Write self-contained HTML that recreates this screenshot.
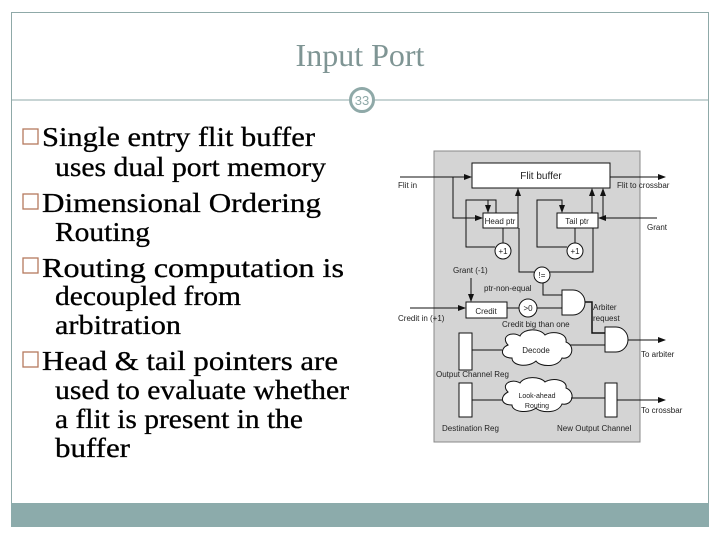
<!DOCTYPE html>
<html><head><style>body{margin:0;background:#fff}svg{display:block}</style></head><body>
<svg width="720" height="540" viewBox="0 0 720 540" xmlns="http://www.w3.org/2000/svg" font-family="Liberation Serif, serif">
<rect x="11.5" y="12.5" width="697" height="514" fill="#fff" stroke="#8fa9a8"/>
<rect x="11" y="503" width="698" height="24" fill="#8cabab"/>
<text x="360" y="66" font-size="32" fill="#7f9594" text-anchor="middle">Input Port</text>
<line x1="11" y1="100" x2="349" y2="100" stroke="#8fa9a8"/>
<line x1="375" y1="100" x2="709" y2="100" stroke="#8fa9a8"/>
<circle cx="362" cy="100" r="11.5" fill="#fff" stroke="#8fa9a8" stroke-width="3"/>
<text x="362" y="105" font-size="13" fill="#8fa9a8" text-anchor="middle" font-family="Liberation Sans, sans-serif">33</text>
<g font-size="27" fill="#000" stroke="#000" stroke-width="0.3">
<g fill="none" stroke="#b57a5e" stroke-width="1.3">
<rect x="23" y="129" width="15" height="15"/><rect x="23" y="194" width="15" height="15"/>
<rect x="23" y="258" width="15" height="15"/><rect x="23" y="352" width="15" height="15"/>
</g>
<text x="42" y="146" textLength="273" lengthAdjust="spacingAndGlyphs">Single entry flit buffer</text>
<text x="55" y="176" textLength="271" lengthAdjust="spacingAndGlyphs">uses dual port memory</text>
<text x="42" y="212" textLength="279" lengthAdjust="spacingAndGlyphs">Dimensional Ordering</text>
<text x="55" y="241" textLength="95" lengthAdjust="spacingAndGlyphs">Routing</text>
<text x="42" y="277" textLength="302" lengthAdjust="spacingAndGlyphs">Routing computation is</text>
<text x="55" y="305" textLength="186" lengthAdjust="spacingAndGlyphs">decoupled from</text>
<text x="55" y="334" textLength="126" lengthAdjust="spacingAndGlyphs">arbitration</text>
<text x="42" y="370" textLength="296" lengthAdjust="spacingAndGlyphs">Head &amp; tail pointers are</text>
<text x="55" y="399" textLength="294" lengthAdjust="spacingAndGlyphs">used to evaluate whether</text>
<text x="55" y="428" textLength="248" lengthAdjust="spacingAndGlyphs">a flit is present in the</text>
<text x="55" y="457" textLength="75" lengthAdjust="spacingAndGlyphs">buffer</text>
</g>
<defs><marker id="a" markerWidth="8" markerHeight="8" refX="7" refY="4" orient="auto" markerUnits="userSpaceOnUse"><path d="M0,1 L8,4 L0,7z" fill="#111"/></marker></defs>
<rect x="434" y="151" width="206" height="291" fill="#d4d4d4" stroke="#888"/>
<g stroke="#111" stroke-width="1" fill="none">
<rect x="472" y="163" width="138" height="25" fill="#fff"/>
<line x1="400" y1="177" x2="471" y2="177" marker-end="url(#a)"/>
<line x1="610" y1="177" x2="665" y2="177" marker-end="url(#a)"/>
<polyline points="453,177 453,218 482,218" marker-end="url(#a)"/>
<rect x="483" y="213" width="35" height="15" fill="#fff"/>
<rect x="557" y="213" width="41" height="15" fill="#fff"/>
<polyline points="496,213 496,200 466,200 466,247 495,247"/>
<polyline points="466,200 488,200 488,212" marker-end="url(#a)"/>
<line x1="503" y1="228" x2="503" y2="243"/>
<circle cx="503" cy="251" r="8" fill="#fff"/>
<line x1="518" y1="213" x2="518" y2="189" marker-end="url(#a)"/>
<polyline points="567,247 537,247 537,200 562,200 562,212" marker-end="url(#a)"/>
<line x1="575" y1="228" x2="575" y2="243"/>
<circle cx="575" cy="251" r="8" fill="#fff"/>
<line x1="592" y1="213" x2="592" y2="189" marker-end="url(#a)"/>
<line x1="657" y1="218" x2="599" y2="218" marker-end="url(#a)"/>
<line x1="603" y1="218" x2="603" y2="189" marker-end="url(#a)"/>
<polyline points="519,228 519,272 534,272"/>
<polyline points="550,272 593,272 593,228"/>
<circle cx="542" cy="275" r="8" fill="#fff"/>
<polyline points="543,283 543,295 562,295"/>
<line x1="471" y1="278" x2="471" y2="301" marker-end="url(#a)"/>
<line x1="410" y1="308" x2="465" y2="308" marker-end="url(#a)"/>
<rect x="466" y="302" width="41" height="16" fill="#fff"/>
<line x1="507" y1="308" x2="519" y2="308"/>
<circle cx="528" cy="308" r="9" fill="#fff"/>
<line x1="537" y1="308" x2="562" y2="308"/>
<path d="M562,290 H573 A12,12.5 0 0 1 573,315 H562 Z" fill="#fff"/>
<polyline points="585,302 592,302 592,333 605,333" stroke-width="1.5"/>
<path d="M605,327 H616 A12,12.5 0 0 1 616,352 H605 Z" fill="#fff"/>
<line x1="628" y1="340" x2="665" y2="340" marker-end="url(#a)"/>
<rect x="459" y="333" width="13" height="37" fill="#fff"/>
<line x1="472" y1="350" x2="502" y2="350"/>
<line x1="570" y1="345" x2="605" y2="345"/>
<path d="M508,345 C500,336 512,331 520,336 C524,328 540,328 545,335 C552,330 568,333 566,342 C576,346 572,360 562,358 C558,368 540,367 536,361 C528,368 512,366 512,358 C500,358 500,348 508,345Z" fill="#fff"/>
<rect x="459" y="383" width="13" height="34" fill="#fff"/>
<line x1="472" y1="400" x2="502" y2="400"/>
<path d="M508,392 C500,384 512,378 520,383 C524,376 540,376 545,382 C552,377 568,380 566,388 C576,392 573,406 562,404 C558,414 540,413 536,408 C528,414 512,412 512,405 C500,405 500,396 508,392Z" fill="#fff"/>
<line x1="571" y1="398" x2="605" y2="398"/>
<rect x="605" y="383" width="12" height="34" fill="#fff"/>
<line x1="617" y1="400" x2="665" y2="400" marker-end="url(#a)"/>
</g>
<g font-family="Liberation Sans, sans-serif" font-size="8" fill="#222">
<text x="541" y="179" font-size="10" text-anchor="middle">Flit buffer</text>
<text x="398" y="188">Flit in</text>
<text x="617" y="188">Flit to crossbar</text>
<text x="500" y="224" text-anchor="middle">Head ptr</text>
<text x="577" y="224" text-anchor="middle">Tail ptr</text>
<text x="647" y="230">Grant</text>
<text x="503" y="254" text-anchor="middle">+1</text>
<text x="575" y="254" text-anchor="middle">+1</text>
<text x="542" y="278" text-anchor="middle">!=</text>
<text x="453" y="273">Grant (-1)</text>
<text x="484" y="291">ptr-non-equal</text>
<text x="486" y="314" text-anchor="middle">Credit</text>
<text x="528" y="311" text-anchor="middle">&gt;0</text>
<text x="398" y="321">Credit in (+1)</text>
<text x="502" y="327">Credit big than one</text>
<text x="593" y="310">Arbiter</text>
<text x="593" y="321">request</text>
<text x="536" y="353" text-anchor="middle">Decode</text>
<text x="641" y="357">To arbiter</text>
<text x="436" y="377">Output Channel Reg</text>
<text x="537" y="398" text-anchor="middle" font-size="7">Look-ahead</text>
<text x="537" y="408" text-anchor="middle" font-size="7">Routing</text>
<text x="641" y="413">To crossbar</text>
<text x="442" y="431">Destination Reg</text>
<text x="557" y="431">New Output Channel</text>
</g>
</svg>
</body></html>
